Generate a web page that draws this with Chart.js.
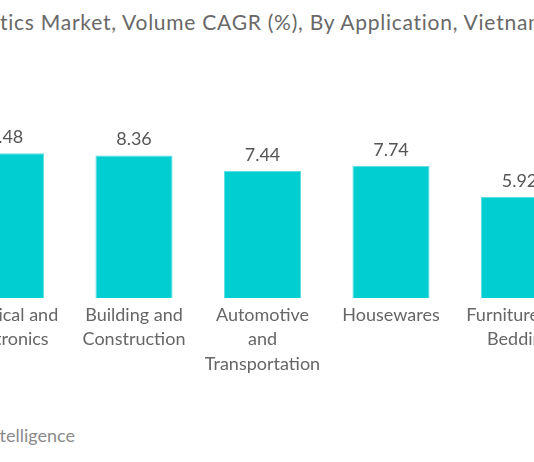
<!DOCTYPE html>
<html>
<head>
<meta charset="utf-8">
<script src="https://cdn.jsdelivr.net/npm/chart.js@4/dist/chart.umd.min.js"></script>
<style>
  html, body { margin: 0; padding: 0; background: #fff; overflow: hidden; }
  body { width: 534px; height: 462px; position: relative; font-family: Lato, "Open Sans", sans-serif; }
  #title { position: absolute; top: 9px; white-space: nowrap; font-size: 21px; letter-spacing: 0.75px; color: #686868; }
  #source { position: absolute; top: 424px; white-space: nowrap; font-size: 18px; color: #8a8a8a; }
  #wrap { position: absolute; left: -70px; top: 0; width: 670px; height: 462px; }
</style>
</head>
<body>
<div id="title">Plastics Market, Volume CAGR (%), By Application, Vietnam, 2022-2027</div>
<div id="source">Source: Mordor Intelligence</div>
<div id="wrap"><canvas id="chart"></canvas></div>
<script>
// chart data
const categories = [
    ['Electrical and', 'Electronics'],
    ['Building and', 'Construction'],
    ['Automotive', 'and', 'Transportation'],
    ['Housewares'],
    ['Furniture and', 'Bedding']
];
const cagrValues = [8.48, 8.36, 7.44, 7.74, 5.92];
const yMin = 0;
const yMax = 10;

// shift the cropped title / source so only the visible part shows
function shiftLeft(id, hidden) {
    const el = document.getElementById(id);
    const ctx = document.createElement('canvas').getContext('2d');
    const cs = getComputedStyle(el);
    ctx.font = cs.fontSize + ' ' + cs.fontFamily;
    const spacing = parseFloat(cs.letterSpacing) || 0;
    el.style.left = (-(ctx.measureText(hidden).width + spacing * hidden.length)) + 'px';
}
shiftLeft('title', 'Plas');
shiftLeft('source', 'Source: Mordor In');

// value labels above bars
const valueLabels = {
    id: 'valueLabels',
    afterDatasetsDraw(chart) {
        const ctx = chart.ctx;
        const meta = chart.getDatasetMeta(0);
        ctx.save();
        ctx.font = '18px Lato, sans-serif';
        ctx.fillStyle = '#555';
        ctx.textAlign = 'center';
        ctx.textBaseline = 'bottom';
        meta.data.forEach((bar, i) => {
            ctx.fillText(cagrValues[i].toFixed(2), bar.x, bar.y - 7);
        });
        ctx.restore();
    }
};

new Chart(document.getElementById('chart').getContext('2d'), {
    type: 'bar',
    data: {
        labels: categories,
        datasets: [{
            data: cagrValues,
            backgroundColor: '#00CED1',
            borderColor: '#5FDDDF',
            borderWidth: 1,
            categoryPercentage: 1,
            barPercentage: 0.6
        }]
    },
    options: {
        responsive: true,
        maintainAspectRatio: false,
        animation: false,
        layout: { padding: { left: 11.25, right: 16.25, top: 127.4, bottom: 80 } },
        plugins: { legend: { display: false }, tooltip: { enabled: false } },
        scales: {
            x: {
                grid: { display: false, drawTicks: false },
                border: { display: false },
                ticks: { color: '#666', font: { family: 'Lato', size: 18, lineHeight: 1.35 }, padding: 5, maxRotation: 0, autoSkip: false },
                afterFit: s => { s.height = 84; }
            },
            y: { display: false, min: yMin, max: yMax }
        }
    },
    plugins: [valueLabels]
});
</script>
</body>
</html>
